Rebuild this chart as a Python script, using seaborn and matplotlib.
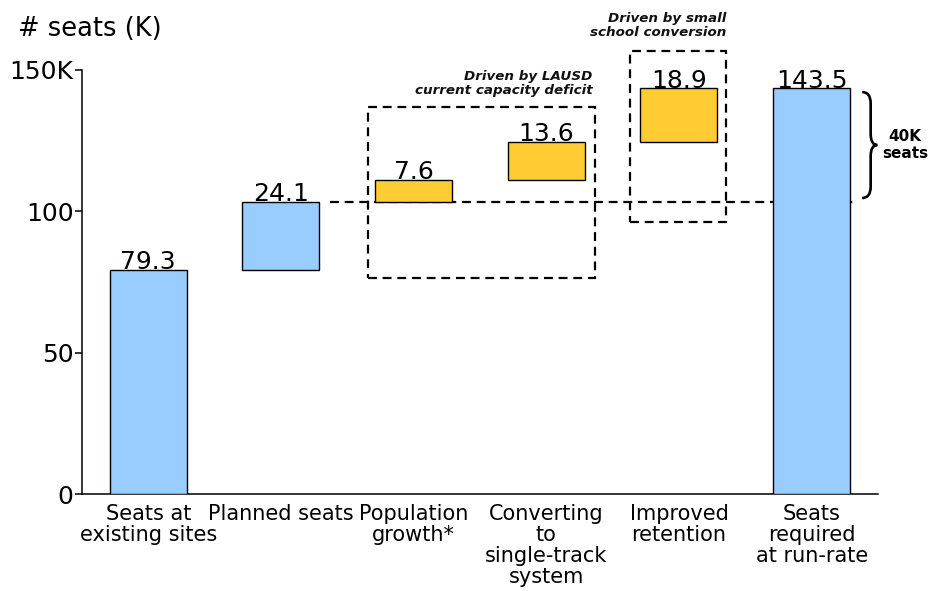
import matplotlib
matplotlib.use("Agg")
import matplotlib.pyplot as plt
from matplotlib.path import Path
from matplotlib.patches import PathPatch, Rectangle
import numpy as np
import pandas as pd
import seaborn as sns

# Seat requirement build-up (thousands of seats)
categories = [
    "Seats at\nexisting sites",
    "Planned seats",
    "Population\ngrowth*",
    "Converting\nto\nsingle-track\nsystem",
    "Improved\nretention",
    "Seats\nrequired\nat run-rate",
]
values = [79.3, 24.1, 7.6, 13.6, 18.9, 143.5]
kinds = ["total", "step", "driver", "driver", "driver", "total"]
value_labels = ["79.3", "24.1", "7.6", "13.6", "18.9", "143.5"]
yticks = [0, 50, 100, 150]
ytick_labels = ["0", "50", "100", "150K"]
gap_label = "40K\nseats"
group_notes = ["Driven by LAUSD\ncurrent capacity deficit",
               "Driven by small\nschool conversion"]

kind_colors = {"total": "#99CCFF", "step": "#99CCFF", "driver": "#FFCC33"}

# Waterfall bottoms: totals start at zero, increments stack on the running sum
bottoms = []
running = 0.0
for v, k in zip(values, kinds):
    if k == "total":
        bottoms.append(0.0)
        running = v
    else:
        bottoms.append(running)
        running += v
tops = [b + v for b, v in zip(bottoms, values)]
planned_level = tops[1]

df = pd.DataFrame({"category": categories, "value": values})

sns.set_style("ticks")
plt.rcParams["font.family"] = ["DejaVu Sans"]
plt.rcParams["text.color"] = "black"
plt.rcParams["xtick.color"] = "black"
plt.rcParams["ytick.color"] = "black"
plt.rcParams["axes.labelcolor"] = "black"

fig = plt.figure(figsize=(9.4, 5.91), dpi=100)
ax = fig.add_axes([0.0872, 0.1641, 0.8468, 0.7175])

sns.barplot(data=df, x="category", y="value", order=categories,
            bottom=bottoms, width=0.58, color=kind_colors["total"],
            edgecolor="black", linewidth=1.0, saturation=1, ax=ax, zorder=3)
for patch, k in zip(ax.patches, kinds):
    patch.set_facecolor(kind_colors[k])

ax.set_xlim(-0.5, 5.5)
ax.set_ylim(0, 150)

# Reference level of planned capacity
ax.plot([1.37, 5.33], [planned_level, planned_level], color="black",
        lw=1.6, ls=(0, (4, 2.6)), zorder=2, clip_on=False)

# Value labels on top of each bar
for i, (t, lab) in enumerate(zip(tops, value_labels)):
    ax.text(i, t + 0.3, lab, ha="center", va="baseline", fontsize=18,
            color="black", zorder=5)

# Dashed group boxes
boxes = [(1.653, 76.4, 3.366, 136.9), (3.63, 96.2, 4.355, 156.7)]
for (x0, y0, x1, y1) in boxes:
    ax.add_patch(Rectangle((x0, y0), x1 - x0, y1 - y0, fill=False,
                           edgecolor="black", lw=1.6, ls=(0, (4, 2.6)),
                           zorder=4, clip_on=False))

# Group notes
ax.text(3.351, 140.4, group_notes[0], ha="right", va="bottom",
        fontsize=9.7, fontweight="bold", fontstyle="italic",
        linespacing=1.1, color="#111111")
ax.text(4.355, 160.9, group_notes[1], ha="right", va="bottom",
        fontsize=9.7, fontweight="bold", fontstyle="italic",
        linespacing=1.1, color="#111111")

# Curly brace marking the gap between planned and required seats
ytop, ybot = 142.2, 104.7
ymid = (ytop + ybot) / 2
x0, x1, x2 = 5.381, 5.445, 5.495
r = 4.0
verts = [
    (x0, ytop), (x1, ytop), (x1, ytop - r),
    (x1, ymid + r),
    (x1, ymid), (x2, ymid),
    (x1, ymid), (x1, ymid - r),
    (x1, ybot + r),
    (x1, ybot), (x0, ybot),
]
codes = [Path.MOVETO, Path.CURVE3, Path.CURVE3, Path.LINETO,
         Path.CURVE3, Path.CURVE3, Path.CURVE3, Path.CURVE3,
         Path.LINETO, Path.CURVE3, Path.CURVE3]
ax.add_patch(PathPatch(Path(verts, codes), fill=False, lw=1.9,
                       edgecolor="black", clip_on=False, zorder=5))
ax.text(5.706, ymid, gap_label, ha="center", va="center", fontsize=11,
        fontweight="bold", linespacing=1.15)

# Axes styling
ax.set_yticks(yticks)
ax.set_yticklabels(ytick_labels, fontsize=18)
ax.set_xticks(range(len(categories)))
ax.set_xticklabels(categories, fontsize=15, linespacing=1.07)
ax.tick_params(axis="x", length=0, pad=7)
ax.tick_params(axis="y", direction="out", length=5, width=1.1, pad=1,
               color="black")
ax.set_xlabel("")
ax.set_ylabel("")
for side in ("top", "right"):
    ax.spines[side].set_visible(False)
for side in ("left", "bottom"):
    ax.spines[side].set_color("black")
    ax.spines[side].set_linewidth(1.1)

fig.text(0.019, 1 - 36 / 591, "# seats (K)", fontsize=18.5,
         ha="left", va="baseline")

fig.savefig("out.png", dpi=100)
